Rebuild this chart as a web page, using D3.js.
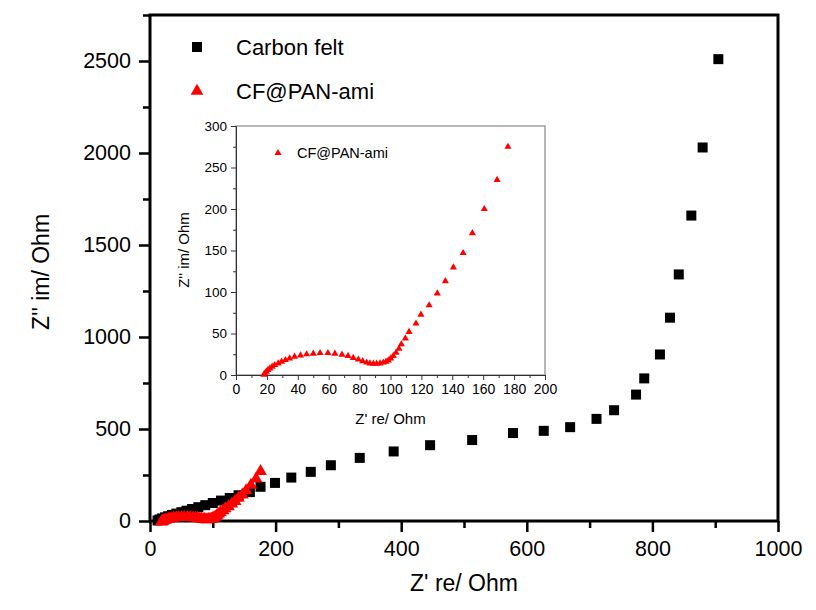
<!DOCTYPE html>
<html><head><meta charset="utf-8">
<script src="https://cdn.jsdelivr.net/npm/d3@7"></script>
<style>body{margin:0;background:#fff}text{font-family:Arial,"Liberation Sans",sans-serif}</style>
</head><body><svg id="c" width="816" height="610"></svg>
<script>
// Carbon felt series
const cfX = [12,15,19,24,29,35,42,50,58,67,77,88,100,113,127,141,159,176,199,225,256,288,334,388,446,513,578,627,669,711,739,774,787,812,828,842,862,880,905];
const cfY = [3,8,14,20,26,33,40,48,56,65,75,86,98,111,125,140,157,186,207,236,267,303,343,378,412,440,478,490,510,555,602,687,775,905,1105,1340,1660,2030,2510];
// CF@PAN-ami series
const paX = [18,18.7,19.6,20.6,21.9,23.4,25.1,27.3,29.5,32,34.7,37.9,41.8,45.7,50,54.4,59.5,64,68.6,72.5,75.9,79.2,82,84.6,86.7,88.9,91,93.2,95.4,97.1,98.6,100.1,101.8,103.6,105.5,107,109.6,112,116.5,119.7,125,130.3,135.5,140.7,147,153,160.7,169,176];
const paY = [0.5,2,4,6,8,10,12,14,16,18,20,22,23.7,25,25.7,26.5,26.5,25.7,24.6,23,20.6,18.6,16.7,15,14,13.6,13.6,14,15,16,17.6,20,23,27,31.7,37,44,52,62,72.7,84,98.4,113,129.7,147,171,200,235,275];
// ticks
const mainXTicks = [0,200,400,600,800,1000];
const mainYTicks = [0,500,1000,1500,2000,2500];
const insetXTicks = [0,20,40,60,80,100,120,140,160,180,200];
const insetYTicks = [0,50,100,150,200,250,300];
const seriesNames = ["Carbon felt","CF@PAN-ami"];

const cf = cfX.map((x,i)=>({x,y:cfY[i]}));
const pa = paX.map((x,i)=>({x,y:paY[i]}));
const svg = d3.select("#c");

// main chart
const L=150,R=778,T=15,B=521;
const x = d3.scaleLinear().domain([0,1000]).range([L,R]);
const y = d3.scaleLinear().domain([0,2750]).range([B,T]);

const fmt = d3.format("d");
// minor ticks
svg.append("g").attr("transform",`translate(0,${B})`)
  .call(d3.axisBottom(x).tickValues(d3.range(100,1000,200)).tickSize(7).tickFormat(""))
  .call(g=>g.select(".domain").remove()).selectAll("line").attr("stroke-width",2.5);
svg.append("g").attr("transform",`translate(${L},0)`)
  .call(d3.axisLeft(y).tickValues(d3.range(250,2751,500)).tickSize(7).tickFormat(""))
  .call(g=>g.select(".domain").remove()).selectAll("line").attr("stroke-width",2.5);
// major ticks
const gx = svg.append("g").attr("transform",`translate(0,${B})`)
  .call(d3.axisBottom(x).tickValues(mainXTicks).tickSize(11).tickPadding(9).tickFormat(fmt));
gx.select(".domain").remove();
gx.selectAll("line").attr("stroke-width",2.5);
gx.selectAll("text").attr("font-size",21.5).attr("fill","#000");
const gy = svg.append("g").attr("transform",`translate(${L},0)`)
  .call(d3.axisLeft(y).tickValues(mainYTicks).tickSize(11).tickPadding(8).tickFormat(fmt));
gy.select(".domain").remove();
gy.selectAll("line").attr("stroke-width",2.5);
gy.selectAll("text").attr("font-size",21.5).attr("fill","#000");
// frame
svg.append("rect").attr("x",L).attr("y",T).attr("width",R-L).attr("height",B-T)
  .attr("fill","none").attr("stroke","#000").attr("stroke-width",3);

// axis titles
svg.append("text").attr("x",(L+R)/2).attr("y",591).attr("text-anchor","middle")
  .attr("font-size",23).text("Z' re/ Ohm");
svg.append("text").attr("transform","translate(49,272) rotate(-90)").attr("text-anchor","middle")
  .attr("font-size",23).text("Z'' im/ Ohm");

const tri = d3.symbol().type(d3.symbolTriangle);
// data main
svg.append("g").selectAll("rect").data(cf).join("rect")
  .attr("x",d=>x(d.x)-5).attr("y",d=>y(d.y)-5).attr("width",10).attr("height",10).attr("fill","#000");
svg.append("g").selectAll("path").data(pa).join("path")
  .attr("d",tri.size(70)).attr("transform",d=>`translate(${x(d.x)},${y(d.y)+1})`).attr("fill","#ff0000");

// legend
svg.append("rect").attr("x",192).attr("y",42).attr("width",10).attr("height",10).attr("fill","#000");
svg.append("path").attr("d",tri.size(70)).attr("transform","translate(197,91)").attr("fill","#ff0000");
svg.append("text").attr("x",236).attr("y",55).attr("font-size",22).text(seriesNames[0]);
svg.append("text").attr("x",236).attr("y",99).attr("font-size",22).text(seriesNames[1]);

// inset
const iL=236,iR=545,iT=126,iB=375;
const ix = d3.scaleLinear().domain([0,200]).range([iL,iR]);
const iy = d3.scaleLinear().domain([0,300]).range([iB,iT]);
svg.append("rect").attr("x",iL).attr("y",iT).attr("width",iR-iL).attr("height",iB-iT)
  .attr("fill","#fff").attr("stroke","#888").attr("stroke-width",1.2);
const ig = svg.append("g");
ig.append("g").attr("transform",`translate(0,${iB})`)
  .call(d3.axisBottom(ix).tickValues(d3.range(10,200,20)).tickSize(3).tickFormat(""))
  .call(g=>g.select(".domain").remove()).selectAll("line").attr("stroke","#333");
ig.append("g").attr("transform",`translate(${iL},0)`)
  .call(d3.axisLeft(iy).tickValues(d3.range(25,300,50)).tickSize(3).tickFormat(""))
  .call(g=>g.select(".domain").remove()).selectAll("line").attr("stroke","#333");
const igx = ig.append("g").attr("transform",`translate(0,${iB})`)
  .call(d3.axisBottom(ix).tickValues(insetXTicks).tickSize(5).tickPadding(4).tickFormat(fmt));
igx.select(".domain").attr("stroke","#333");
igx.selectAll("line").attr("stroke","#333");
igx.selectAll("text").attr("font-size",14).attr("fill","#000");
const igy = ig.append("g").attr("transform",`translate(${iL},0)`)
  .call(d3.axisLeft(iy).tickValues(insetYTicks).tickSize(5).tickPadding(4).tickFormat(fmt));
igy.select(".domain").attr("stroke","#333");
igy.selectAll("line").attr("stroke","#333");
igy.selectAll("text").attr("font-size",13.5).attr("fill","#000");
ig.append("text").attr("x",(iL+iR)/2).attr("y",424).attr("text-anchor","middle")
  .attr("font-size",15).text("Z' re/ Ohm");
ig.append("text").attr("transform","translate(189,250) rotate(-90)").attr("text-anchor","middle")
  .attr("font-size",15).text("Z'' im/ Ohm");
ig.append("g").selectAll("path").data(pa).join("path")
  .attr("d",tri.size(22)).attr("transform",d=>`translate(${ix(d.x)},${iy(d.y)})`).attr("fill","#ff0000");
ig.append("path").attr("d",tri.size(22)).attr("transform","translate(278,153)").attr("fill","#ff0000");
ig.append("text").attr("x",297).attr("y",158).attr("font-size",14.5).text(seriesNames[1]);
</script></body></html>
